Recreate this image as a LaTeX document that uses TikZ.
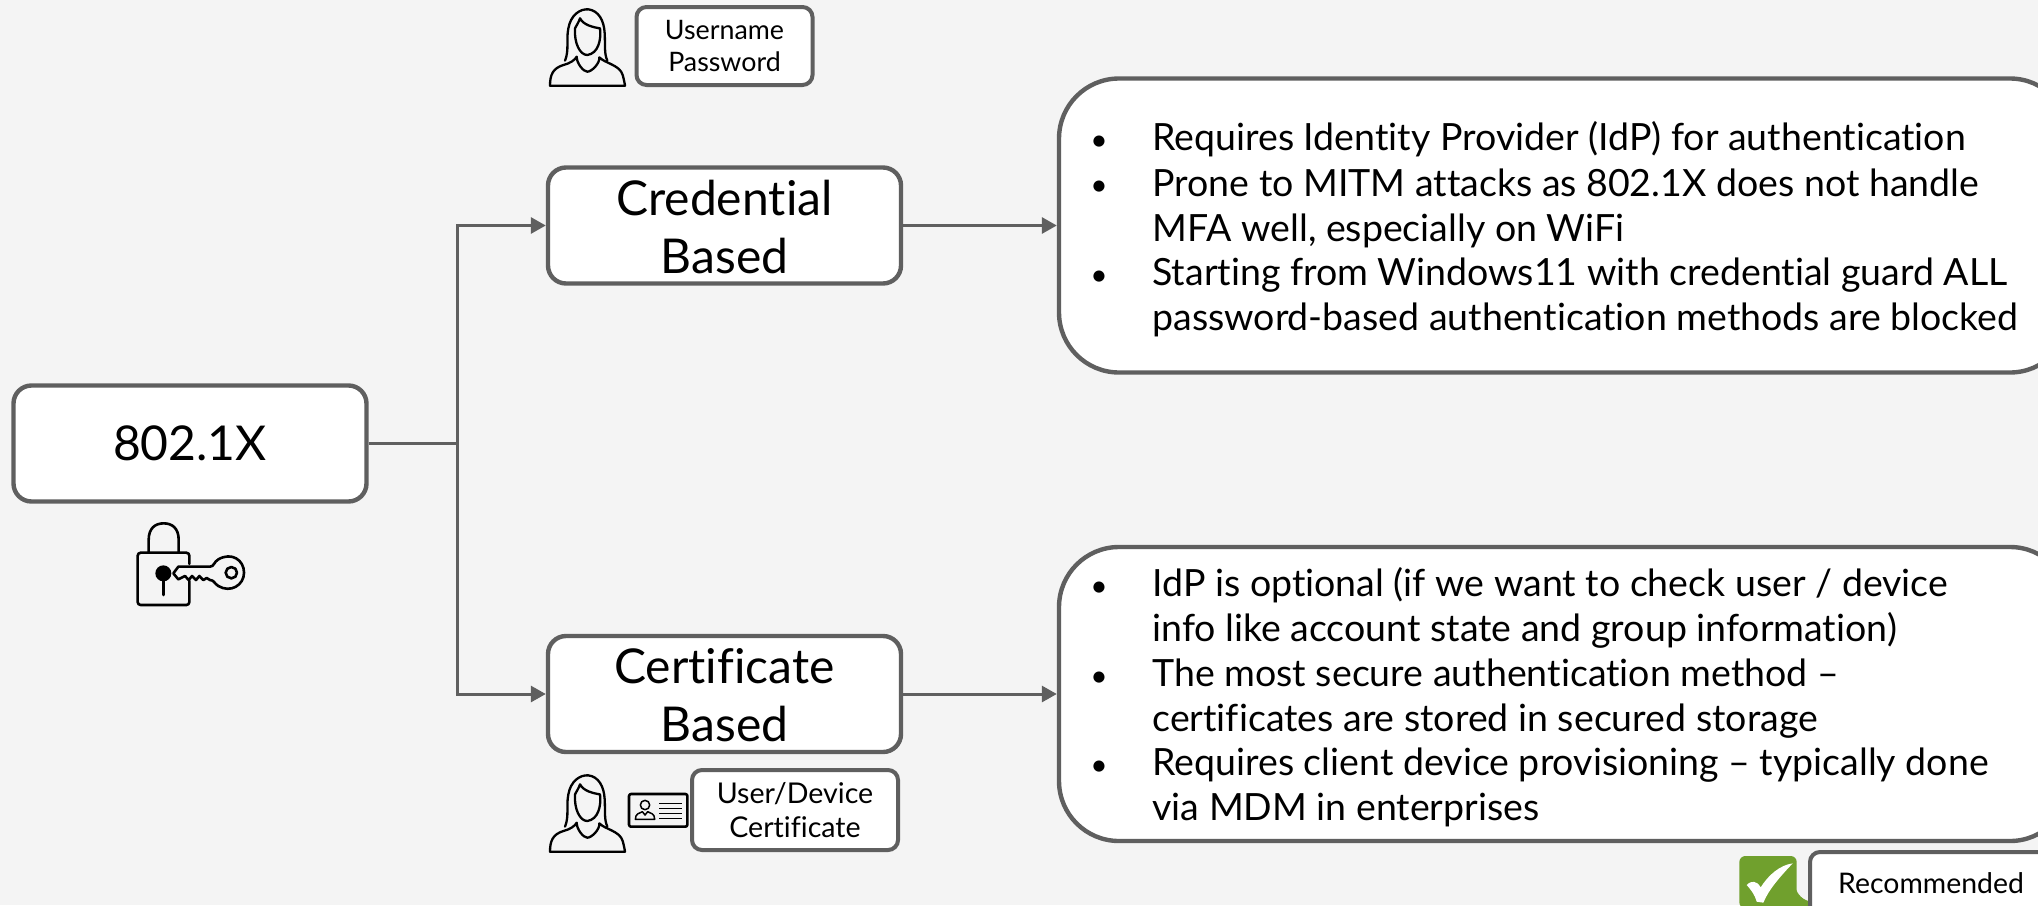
\documentclass[tikz,border=0pt]{standalone}
\usepackage{fontspec}
\setmainfont{Lato}[Ligatures=CommonOff]
\usetikzlibrary{arrows.meta}
\definecolor{bg}{HTML}{F4F4F4}
\definecolor{edge}{HTML}{5F5F5F}
\definecolor{okgreen}{HTML}{70A02D}
\tikzset{
  x=0.5pt,y=-0.5pt,
  box/.style={draw=edge,fill=white,line width=2.2pt,rounded corners=9pt,inner sep=0pt,align=center,text=black},
  bigbox/.style={draw=edge,fill=white,line width=2.2pt,rounded corners=30pt},
  smallbox/.style={draw=edge,fill=white,line width=2pt,rounded corners=5pt,inner sep=0pt,align=center,text=black},
  conn/.style={draw=edge,line width=1.5pt},
  arr/.style={conn,-{Triangle[length=7.5pt,width=8pt]}},
  line/.style={anchor=base west,inner sep=0pt,text=black,font=\fontsize{18.75}{22}\selectfont},
  bul/.style={anchor=base,inner sep=0pt,text=black,font=\fontsize{15}{14}\selectfont},
  icon/.style={draw=black,line width=1.15pt,line cap=round,line join=round},
  person/.pic={
    \begin{scope}[x=0.1667pt,y=-0.1667pt]
    \draw[icon] (105,182) .. controls (118,150) and (108,120) .. (115,85) .. controls (122,45) and (150,26) .. (175,28) .. controls (205,32) and (222,60) .. (224,100) .. controls (226,135) and (222,160) .. (232,182);
    \draw[icon] (135,85) .. controls (140,75) and (147,65) .. (150,55) .. controls (160,75) and (190,82) .. (210,85) .. controls (214,120) and (205,160) .. (172,165) .. controls (150,165) and (132,130) .. (135,85);
    \draw[icon] (60,257) .. controls (60,225) and (68,205) .. (100,195) .. controls (120,190) and (135,180) .. (140,170) .. controls (140,190) and (160,215) .. (172,215) .. controls (185,215) and (210,190) .. (208,172) .. controls (225,190) and (270,195) .. (278,225) .. controls (282,240) and (284,250) .. (285,257) -- cycle;
    \end{scope}
  }
}
\begin{document}
\begin{tikzpicture}
\useasboundingbox (0,0) rectangle (2038,905);
\fill[bg] (0,0) rectangle (2038,905);
\begin{scope}
\clip (0,0) rectangle (2038,905);
% main boxes
\node[box,minimum width=176.5pt,minimum height=58pt,font=\fontsize{24}{29}\selectfont] (root) at (190,443.5) {\raisebox{-0.5pt}{802.1X}};
\node[box,minimum width=176.5pt,minimum height=58pt,font=\fontsize{24}{29}\selectfont,text depth=0pt] (cred) at (724.5,225.5) {\raisebox{-1.3pt}{Credential}\\\raisebox{-1.3pt}{Based}};
\node[box,minimum width=176.5pt,minimum height=58pt,font=\fontsize{24}{29}\selectfont,text depth=0pt] (cert) at (724.5,694) {\raisebox{-1.3pt}{Certificate}\\\raisebox{-1.3pt}{Based}};
\coordinate (j) at (457,443.5);
\draw[conn] (root.east) -- (j);
\draw[arr] (j) |- (cred.west);
\draw[arr] (j) |- (cert.west);
% detail boxes
\node[bigbox,minimum width=505.5pt,minimum height=147pt,inner sep=0pt] (d1) at (1564.5,225.5) {};
\node[bigbox,minimum width=505.5pt,minimum height=147pt,inner sep=0pt] (d2) at (1564.5,694) {};
\draw[arr] (cred.east) -- (d1.west);
\draw[arr] (cert.east) -- (d2.west);
% text 1
\node[bul] (b1) at (1099,150.5) {•};
\node[line] (t1) at (1152,150.5) {Requires Identity Provider (IdP) for authentication};
\node[bul] (b2) at (1099,195.5) {•};
\node[line] (t2) at (1152,196) {Prone to MITM attacks as 802.1X does not handle};
\node[line] (t3) at (1152,241) {MFA well, especially on WiFi};
\node[bul] (b3) at (1099,285.5) {•};
\node[line] (t4) at (1152,285.5) {Starting from Windows11 with credential guard ALL};
\node[line] (t5) at (1152,330.5) {password-based authentication methods are blocked};
% text 2
\node[bul] (b4) at (1099,596.5) {•};
\node[line] (u1) at (1152,596.5) {IdP is optional (if we want to check user / device};
\node[line] (u2) at (1152,641.5) {info like account state and group information)};
\node[bul] (b5) at (1099,686.5) {•};
\node[line] (u3) at (1152,686.5) {The most secure authentication method –};
\node[line] (u4) at (1152,731.5) {certificates are stored in secured storage};
\node[bul] (b6) at (1099,775.5) {•};
\node[line] (u5) at (1152,775.5) {Requires client device provisioning – typically done};
\node[line] (u6) at (1152,820.5) {via MDM in enterprises};
% small boxes
\node[smallbox,minimum width=88pt,minimum height=39pt,font=\fontsize{13.4}{15.6}\selectfont] (up) at (724.5,46) {\raisebox{-0.3pt}{Username}\\\raisebox{-0.3pt}{Password}};
\node[smallbox,minimum width=103pt,minimum height=40pt,font=\fontsize{14.3}{17}\selectfont] (uc) at (795,810) {User/Device\\Certificate};
\pic at (530,0) {person};
\pic at (530,766) {person};
% id card
\begin{scope}[shift={(530,760)},x=0.1667pt,y=-0.1667pt]
\draw[icon,rounded corners=1pt,line width=1.3pt] (297,102) rectangle (472,200);
\draw[icon,line width=0.75pt] (345,135) circle (14);
\draw[icon,line width=0.75pt] (316,178) .. controls (316,160) and (328,160) .. (337,155) -- (345,165) -- (353,155) .. controls (362,160) and (374,160) .. (374,178) -- cycle;
\draw[icon,line width=0.8pt,line cap=butt] (388,130) -- (455,130) (388,145) -- (455,145) (388,160) -- (455,160) (388,175) -- (455,175);
\end{scope}
% lock and key
\begin{scope}[shift={(110,510)},x=0.1667pt,y=-0.1667pt]
\draw[icon,line width=1.3pt] (116,128) -- (116,90) .. controls (116,55) and (135,40) .. (161,40) .. controls (187,40) and (206,55) .. (206,90) -- (206,128);
\draw[icon,line width=1.3pt,rounded corners=1.5pt] (238,162) -- (238,128) -- (83,128) -- (83,285) -- (238,285) -- (238,212);
\fill (160,190) circle (24);
\draw[icon,line width=1.3pt] (160,195) -- (160,255);
\draw[icon,line width=1.3pt] (205,170) -- (300,170) .. controls (312,170) and (312,155) .. (325,148) .. controls (365,125) and (402,150) .. (402,188) .. controls (402,225) and (362,250) .. (325,228) .. controls (312,220) and (312,210) .. (300,210) -- (290,204) -- (280,210) -- (268,198) -- (258,210) -- (246,198) -- (236,210) -- (225,198) -- (205,208) -- (190,190) -- cycle;
\draw[icon,line width=1.3pt] (364,188) circle (17);
\end{scope}
% recommended
\begin{scope}[shift={(1700,830)},x=0.1667pt,y=-0.1667pt]
\fill[okgreen,rounded corners=3pt] (118,78) rectangle (290,235);
\fill[okgreen] (285,170) .. controls (292,195) and (310,212) .. (335,215) -- (335,235) -- (285,235) -- cycle;
\fill[white] (140,165) .. controls (155,150) and (170,152) .. (182,172) .. controls (205,135) and (240,105) .. (278,100) .. controls (240,140) and (205,180) .. (190,218) -- (170,215) .. controls (165,195) and (152,178) .. (140,165) -- cycle;
\end{scope}
\node[smallbox,minimum width=120pt,minimum height=40pt] (rec) at (1930,892) {};
\node[inner sep=0pt,text=black,font=\fontsize{14.2}{16}\selectfont] (rect) at (1931,883) {Recommended};
\end{scope}
\end{tikzpicture}
\end{document}
